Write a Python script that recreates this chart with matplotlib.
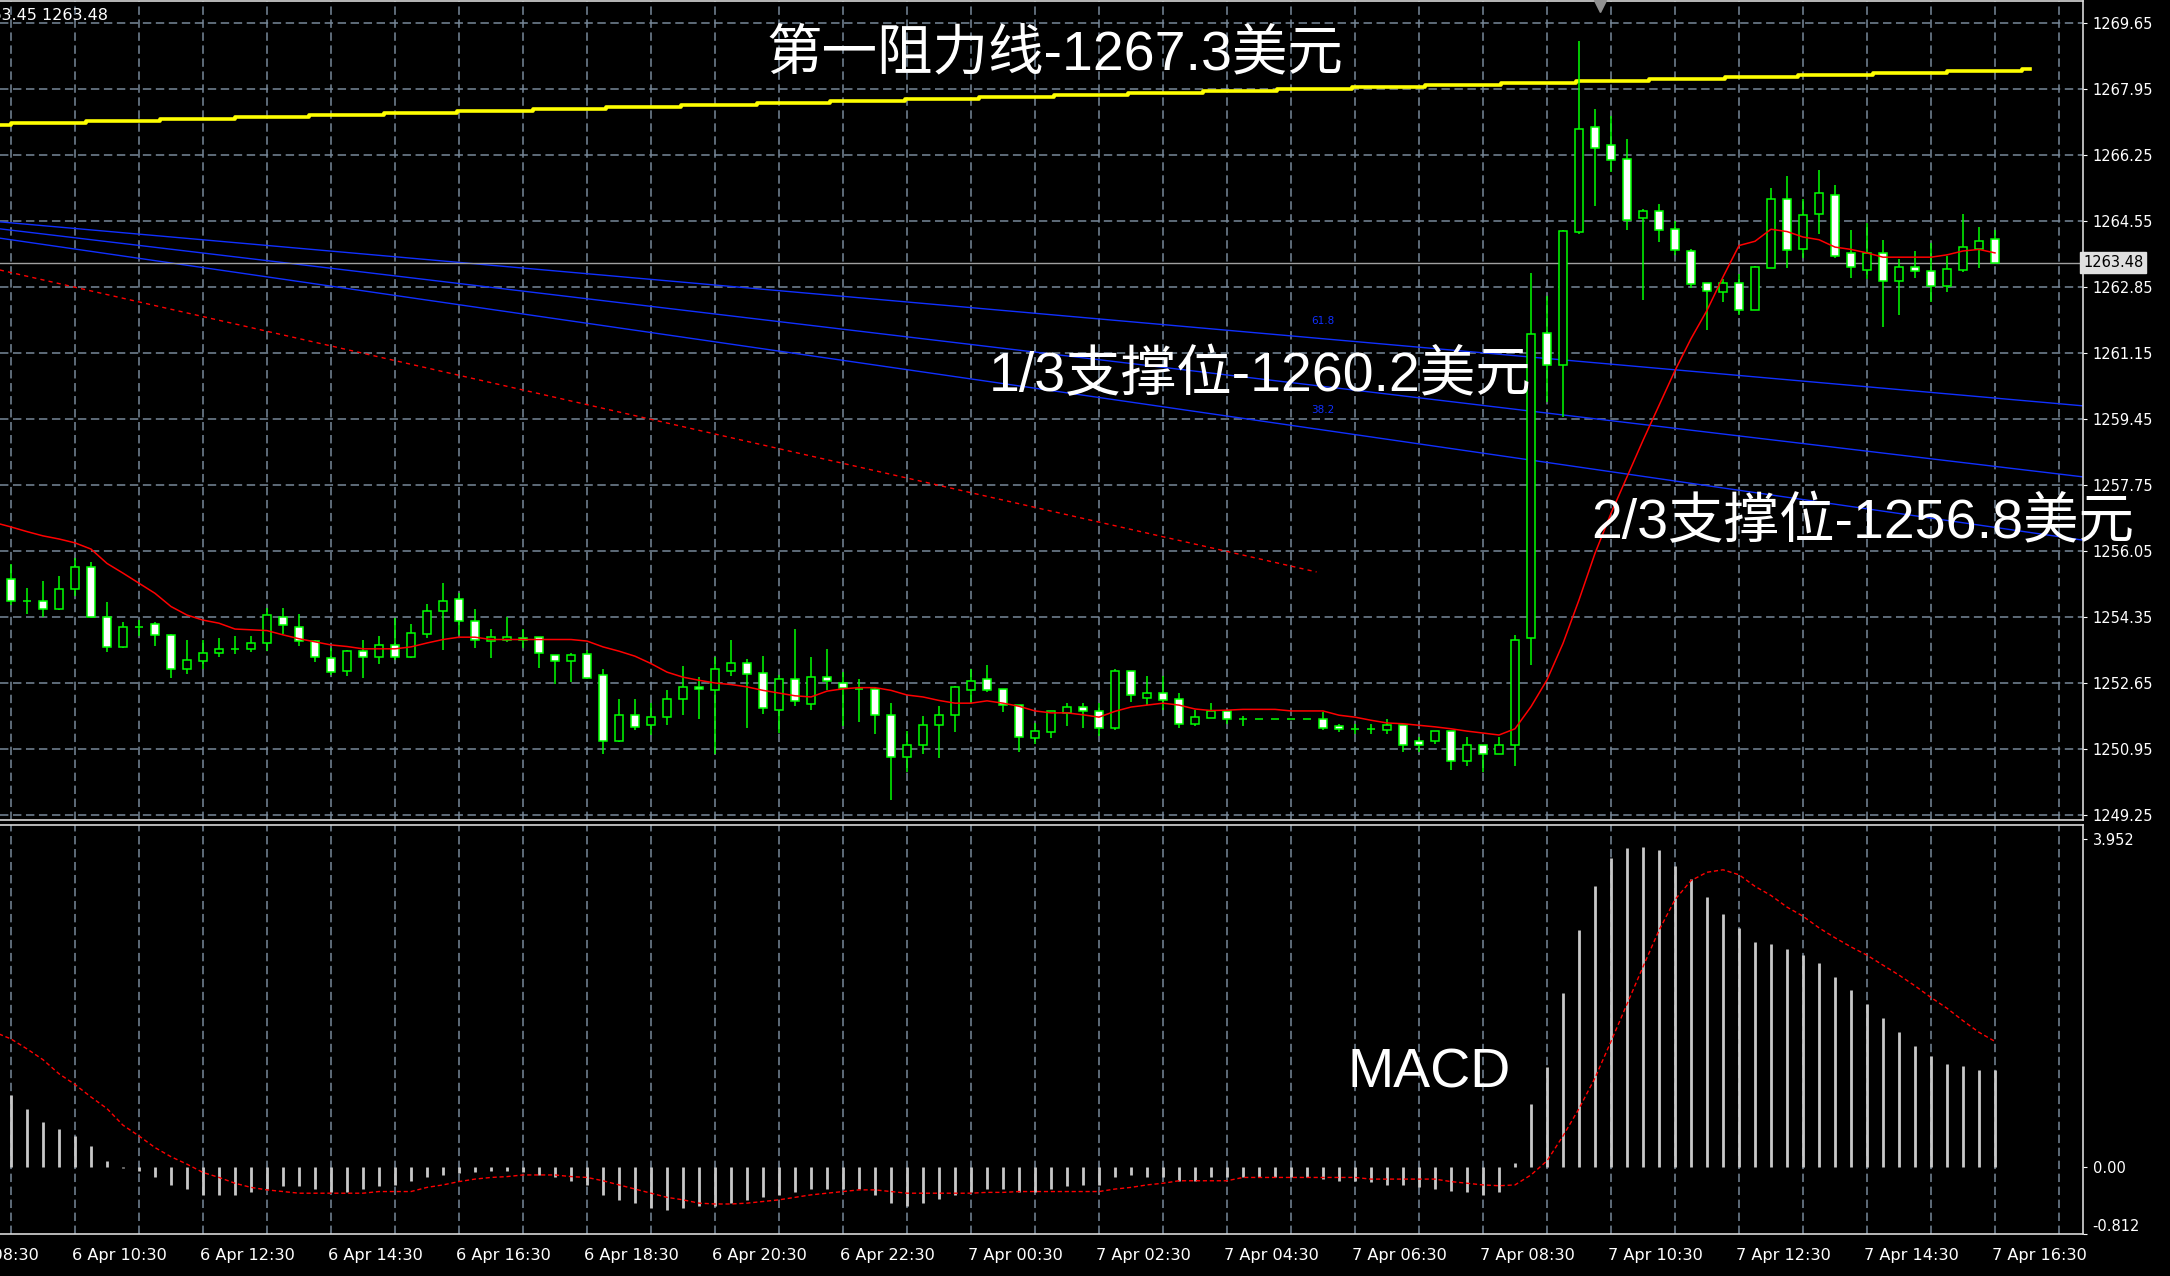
import numpy as np
import matplotlib.pyplot as plt

# 15-minute candles, index -1 .. 124 (index 0 = 6 Apr 09:30)
bar_idx = list(range(-1, 125))
opens = [1254.99, 1255.33, 1254.76, 1254.76, 1254.55, 1255.06, 1255.65, 1254.34, 1253.57, 1254.10,
         1254.16, 1253.89, 1253.00, 1253.21, 1253.41, 1253.53, 1253.52, 1253.67, 1254.36, 1254.10,
         1253.74, 1253.29, 1252.95, 1253.48, 1253.31, 1253.64, 1253.31, 1253.92, 1254.50, 1254.81,
         1254.25, 1253.72, 1253.75, 1253.82, 1253.83, 1253.36, 1253.21, 1253.39, 1252.85, 1251.15,
         1251.83, 1251.56, 1251.77, 1252.23, 1252.55, 1252.48, 1252.96, 1253.17, 1252.91, 1251.96,
         1252.74, 1252.12, 1252.80, 1252.65, 1252.50, 1252.50, 1251.82, 1250.74, 1251.04, 1251.56,
         1251.82, 1252.48, 1252.74, 1252.49, 1252.07, 1251.24, 1251.39, 1251.88, 1252.03, 1251.93,
         1251.49, 1252.96, 1252.26, 1252.39, 1252.23, 1251.60, 1251.76, 1251.93, 1251.72, 1251.72,
         1251.72, 1251.72, 1251.72, 1251.72, 1251.53, 1251.47, 1251.47, 1251.45, 1251.57, 1251.16,
         1251.16, 1251.41, 1250.63, 1251.04, 1250.83, 1251.04, 1253.80, 1261.67, 1260.84, 1264.28,
         1266.97, 1266.51, 1266.15, 1264.64, 1264.81, 1264.34, 1263.78, 1262.95, 1262.72, 1262.95,
         1262.27, 1263.35, 1265.12, 1263.82, 1264.74, 1265.23, 1263.73, 1263.30, 1263.73, 1263.00,
         1263.37, 1263.26, 1262.89, 1263.30, 1263.82, 1264.08]
highs = [1255.50, 1255.72, 1255.09, 1255.29, 1255.40, 1255.86, 1255.76, 1254.73, 1254.21, 1254.27,
         1254.21, 1253.90, 1253.76, 1253.76, 1253.81, 1253.85, 1253.85, 1254.57, 1254.57, 1254.42,
         1253.76, 1253.56, 1253.50, 1253.76, 1253.85, 1254.32, 1254.16, 1254.68, 1255.23, 1254.97,
         1254.56, 1254.05, 1254.35, 1254.05, 1253.84, 1253.37, 1253.42, 1253.49, 1253.02, 1252.25,
         1252.25, 1252.13, 1252.46, 1253.08, 1252.80, 1253.32, 1253.75, 1253.28, 1253.34, 1252.85,
         1254.05, 1253.32, 1253.53, 1252.93, 1252.76, 1252.55, 1252.14, 1251.41, 1251.79, 1252.05,
         1252.56, 1253.02, 1253.12, 1252.50, 1252.08, 1251.62, 1251.94, 1252.14, 1252.14, 1252.14,
         1253.02, 1252.97, 1252.82, 1252.82, 1252.40, 1251.95, 1252.14, 1251.94, 1251.79, 1251.72,
         1251.72, 1251.72, 1251.72, 1251.89, 1251.59, 1251.59, 1251.59, 1251.73, 1251.58, 1251.26,
         1251.42, 1251.42, 1251.26, 1251.05, 1251.26, 1253.88, 1263.22, 1262.61, 1264.32, 1269.20,
         1267.44, 1267.25, 1266.67, 1264.87, 1264.98, 1264.55, 1263.84, 1262.96, 1263.06, 1263.18,
         1263.38, 1265.39, 1265.70, 1265.13, 1265.86, 1265.49, 1264.31, 1264.51, 1264.05, 1263.58,
         1263.79, 1263.99, 1263.64, 1264.72, 1264.41, 1264.33]
lows = [1254.90, 1254.65, 1254.44, 1254.34, 1254.52, 1254.90, 1254.33, 1253.46, 1253.55, 1253.87,
        1253.60, 1252.79, 1252.88, 1253.00, 1253.31, 1253.40, 1253.46, 1253.48, 1253.91, 1253.60,
        1253.20, 1252.86, 1252.84, 1252.79, 1253.14, 1253.24, 1253.29, 1253.82, 1253.49, 1253.88,
        1253.55, 1253.30, 1253.71, 1253.55, 1253.04, 1252.63, 1252.68, 1252.74, 1250.83, 1251.13,
        1251.45, 1251.30, 1251.56, 1251.82, 1251.71, 1250.83, 1252.83, 1251.49, 1251.86, 1251.36,
        1252.05, 1251.96, 1252.46, 1251.54, 1251.65, 1251.34, 1249.64, 1250.36, 1250.83, 1250.73,
        1251.39, 1252.12, 1252.42, 1251.90, 1250.87, 1251.07, 1251.24, 1251.54, 1251.49, 1251.28,
        1251.43, 1252.16, 1252.09, 1251.95, 1251.49, 1251.54, 1251.75, 1251.60, 1251.53, 1251.72,
        1251.72, 1251.72, 1251.72, 1251.43, 1251.39, 1251.33, 1251.33, 1251.33, 1250.87, 1250.87,
        1251.07, 1250.40, 1250.51, 1250.36, 1250.82, 1250.51, 1253.11, 1259.90, 1259.51, 1264.22,
        1264.94, 1265.81, 1264.31, 1262.52, 1264.01, 1263.67, 1262.83, 1261.75, 1262.46, 1262.12,
        1262.26, 1263.34, 1263.35, 1263.60, 1264.22, 1263.60, 1263.09, 1263.06, 1261.82, 1262.12,
        1263.09, 1262.46, 1262.72, 1263.24, 1263.35, 1263.47]
closes = [1255.35, 1254.76, 1254.76, 1254.56, 1255.08, 1255.65, 1254.35, 1253.57, 1254.10, 1254.10,
          1253.89, 1253.01, 1253.23, 1253.43, 1253.53, 1253.53, 1253.69, 1254.41, 1254.14, 1253.74,
          1253.31, 1252.94, 1253.48, 1253.31, 1253.64, 1253.31, 1253.95, 1254.50, 1254.76, 1254.24,
          1253.77, 1253.83, 1253.83, 1253.77, 1253.42, 1253.21, 1253.36, 1252.78, 1251.15, 1251.83,
          1251.52, 1251.77, 1252.25, 1252.55, 1252.50, 1253.02, 1253.17, 1252.89, 1252.01, 1252.76,
          1252.19, 1252.80, 1252.69, 1252.53, 1252.50, 1251.82, 1250.74, 1251.04, 1251.56, 1251.82,
          1252.55, 1252.70, 1252.48, 1252.07, 1251.26, 1251.41, 1251.93, 1252.03, 1251.92, 1251.49,
          1252.96, 1252.33, 1252.39, 1252.22, 1251.60, 1251.77, 1251.93, 1251.71, 1251.72, 1251.72,
          1251.72, 1251.72, 1251.72, 1251.50, 1251.46, 1251.47, 1251.47, 1251.56, 1251.04, 1251.04,
          1251.41, 1250.63, 1251.05, 1250.83, 1251.04, 1253.77, 1261.63, 1260.84, 1264.29, 1266.92,
          1266.44, 1266.13, 1264.58, 1264.81, 1264.33, 1263.81, 1262.94, 1262.75, 1262.95, 1262.27,
          1263.37, 1265.12, 1263.81, 1264.71, 1265.27, 1263.65, 1263.37, 1263.73, 1263.00, 1263.37,
          1263.26, 1262.89, 1263.31, 1263.88, 1264.04, 1263.48]
ma_line = [1256.78, 1256.67, 1256.55, 1256.44, 1256.36, 1256.26, 1256.10, 1255.73, 1255.48, 1255.22,
           1254.96, 1254.62, 1254.40, 1254.27, 1254.19, 1254.04, 1254.02, 1254.00, 1253.89, 1253.79,
           1253.71, 1253.63, 1253.59, 1253.53, 1253.53, 1253.53, 1253.58, 1253.68, 1253.77, 1253.83,
           1253.83, 1253.77, 1253.77, 1253.77, 1253.77, 1253.77, 1253.77, 1253.73, 1253.58, 1253.47,
           1253.34, 1253.15, 1252.93, 1252.80, 1252.72, 1252.65, 1252.61, 1252.55, 1252.46, 1252.39,
           1252.32, 1252.29, 1252.44, 1252.50, 1252.53, 1252.53, 1252.46, 1252.34, 1252.29, 1252.20,
           1252.13, 1252.13, 1252.19, 1252.13, 1252.05, 1251.93, 1251.88, 1251.88, 1251.83, 1251.77,
           1251.92, 1252.03, 1252.08, 1252.13, 1252.08, 1251.98, 1251.94, 1251.95, 1251.97, 1251.97,
           1251.97, 1251.93, 1251.93, 1251.93, 1251.82, 1251.77, 1251.69, 1251.62, 1251.60, 1251.56,
           1251.52, 1251.47, 1251.41, 1251.36, 1251.31, 1251.47, 1252.04, 1252.73, 1253.67, 1254.79,
           1255.99, 1257.02, 1257.96, 1258.90, 1259.80, 1260.70, 1261.52, 1262.25, 1263.11, 1263.92,
           1264.03, 1264.34, 1264.28, 1264.14, 1264.07, 1263.88, 1263.82, 1263.73, 1263.62, 1263.62,
           1263.62, 1263.62, 1263.68, 1263.78, 1263.82, 1263.73]

# MACD histogram and signal line, same index
macd_hist = [0.95, 0.87, 0.70, 0.54, 0.45, 0.37, 0.25, 0.07, -0.02, -0.05,
             -0.13, -0.22, -0.27, -0.34, -0.34, -0.34, -0.30, -0.27, -0.23, -0.23,
             -0.27, -0.30, -0.30, -0.27, -0.23, -0.22, -0.17, -0.13, -0.10, -0.08,
             -0.07, -0.05, -0.05, -0.07, -0.10, -0.13, -0.17, -0.22, -0.34, -0.40,
             -0.44, -0.50, -0.52, -0.50, -0.47, -0.47, -0.44, -0.40, -0.37, -0.34,
             -0.30, -0.27, -0.27, -0.27, -0.27, -0.34, -0.44, -0.47, -0.44, -0.39,
             -0.34, -0.30, -0.27, -0.27, -0.30, -0.30, -0.27, -0.23, -0.22, -0.22,
             -0.13, -0.10, -0.13, -0.13, -0.17, -0.17, -0.13, -0.13, -0.13, -0.13,
             -0.13, -0.13, -0.13, -0.15, -0.17, -0.17, -0.18, -0.22, -0.22, -0.24,
             -0.27, -0.29, -0.30, -0.34, -0.30, 0.05, 0.75, 1.20, 2.10, 2.85,
             3.38, 3.72, 3.84, 3.85, 3.82, 3.63, 3.47, 3.25, 3.05, 2.88,
             2.71, 2.68, 2.63, 2.55, 2.46, 2.29, 2.13, 1.96, 1.79, 1.62,
             1.46, 1.34, 1.24, 1.21, 1.17, 1.17]
macd_signal = [1.62, 1.54, 1.42, 1.29, 1.12, 0.99, 0.84, 0.70, 0.50, 0.37,
               0.23, 0.12, 0.03, -0.07, -0.13, -0.20, -0.25, -0.28, -0.30, -0.32,
               -0.32, -0.32, -0.32, -0.32, -0.30, -0.30, -0.30, -0.25, -0.22, -0.18,
               -0.15, -0.13, -0.12, -0.10, -0.10, -0.10, -0.12, -0.13, -0.17, -0.22,
               -0.27, -0.32, -0.37, -0.40, -0.44, -0.45, -0.45, -0.44, -0.42, -0.40,
               -0.37, -0.34, -0.32, -0.30, -0.28, -0.28, -0.30, -0.32, -0.32, -0.32,
               -0.32, -0.32, -0.31, -0.31, -0.30, -0.30, -0.30, -0.30, -0.30, -0.30,
               -0.27, -0.25, -0.22, -0.20, -0.17, -0.17, -0.17, -0.17, -0.13, -0.13,
               -0.13, -0.13, -0.13, -0.13, -0.13, -0.13, -0.15, -0.15, -0.15, -0.15,
               -0.15, -0.18, -0.20, -0.22, -0.23, -0.22, -0.10, 0.07, 0.37, 0.70,
               1.07, 1.51, 1.96, 2.41, 2.85, 3.22, 3.45, 3.55, 3.58, 3.52,
               3.38, 3.27, 3.13, 3.02, 2.88, 2.76, 2.65, 2.55, 2.43, 2.31,
               2.18, 2.04, 1.91, 1.76, 1.62, 1.51]

# yellow resistance line (stepped), in candle index / price
yellow_x = [-0.7, 0.0, 4.7, 9.3, 14.0, 18.6, 23.3, 27.9, 32.6, 37.2, 41.9, 46.6, 51.2, 55.9, 60.5,
            65.2, 69.8, 74.5, 79.1, 83.8, 88.4, 93.1, 97.8, 102.4, 107.1, 111.7, 116.4, 121.0, 125.7, 126.2]
yellow_y = [1267.03, 1267.08, 1267.13, 1267.18, 1267.23, 1267.28, 1267.34, 1267.39, 1267.44, 1267.49,
            1267.54, 1267.59, 1267.65, 1267.70, 1267.75, 1267.80, 1267.85, 1267.90, 1267.96, 1268.01,
            1268.06, 1268.11, 1268.16, 1268.21, 1268.27, 1268.32, 1268.37, 1268.42, 1268.46, 1268.46]

# fibonacci fan lines (start/end points) and red dashed trendline
fan_x = [-0.69, 129.5]
fan_618 = [1264.53, 1259.79]
fan_500 = [1264.35, 1257.96]
fan_382 = [1264.11, 1256.33]
trend_x = [-0.7, 81.6]
trend_y = [1263.29, 1255.51]

last_price = 1263.48
price_ticks = [1249.25, 1250.95, 1252.65, 1254.35, 1256.05, 1257.75, 1259.45,
               1261.15, 1262.85, 1264.55, 1266.25, 1267.95, 1269.65]
date_pos = [-4, 4, 12, 20, 28, 36, 44, 52, 60, 68, 76, 84, 92, 100, 108, 116, 124]
date_labels = ['6 Apr 08:30', '6 Apr 10:30', '6 Apr 12:30', '6 Apr 14:30', '6 Apr 16:30',
               '6 Apr 18:30', '6 Apr 20:30', '6 Apr 22:30', '7 Apr 00:30', '7 Apr 02:30',
               '7 Apr 04:30', '7 Apr 06:30', '7 Apr 08:30', '7 Apr 10:30', '7 Apr 12:30',
               '7 Apr 14:30', '7 Apr 16:30']

GREEN = '#00ff00'
GRID = '#778899'
dash = (0, (5.5, 3))

plt.rcParams['font.family'] = ['DejaVu Sans']
big = ['Liberation Sans', 'Noto Sans CJK SC', 'DejaVu Sans']

W, H = 2170, 1276
fig = plt.figure(figsize=(W / 100, H / 100), dpi=100, facecolor='black')
ax = fig.add_axes([0, 1 - 820 / H, 2083 / W, 819 / H], facecolor='black')
ax2 = fig.add_axes([0, 1 - 1234 / H, 2083 / W, 409 / H], facecolor='black')

x = np.array(bar_idx)
o = np.array(opens); c = np.array(closes); hi = np.array(highs); lo = np.array(lows)
up = c >= o

for a in (ax, ax2):
    a.set_xlim(-0.6875, 129.5)
    a.set_xticks(range(0, 130, 4))
    a.tick_params(axis='x', length=0, labelbottom=False)
    a.grid(axis='x', color=GRID, lw=1.1, linestyle=dash)
    a.set_axisbelow(True)
    a.spines['left'].set_visible(False)
    for s in ('right', 'bottom', 'top'):
        a.spines[s].set_color('#d8d8d8')
        a.spines[s].set_linewidth(1.2)
    a.yaxis.tick_right()
    a.tick_params(axis='y', colors='white', labelsize=10.5, length=3, pad=4)

# upper panel
ax.set_ylim(1249.12, 1270.22)
ax.set_yticks(price_ticks)
ax.set_yticklabels(['%.2f' % t for t in price_ticks])
ax.grid(axis='y', color=GRID, lw=1.1, linestyle=dash)

ax.plot(yellow_x, yellow_y, color='#ffff00', lw=2.6, drawstyle='steps-post', zorder=2)
ax.plot(fan_x, fan_618, color='#1030ff', lw=1, zorder=2)
ax.plot(fan_x, fan_500, color='#1030ff', lw=1, zorder=2)
ax.plot(fan_x, fan_382, color='#1030ff', lw=1, zorder=2)
ax.plot(trend_x, trend_y, color='#ff0000', lw=1, linestyle=(0, (3, 3)), zorder=2)
ax.text(82, 1261.98, '61.8', color='#1030ff', fontsize=7.5, ha='center', va='center')
ax.text(82, 1259.68, '38.2', color='#1030ff', fontsize=7.5, ha='center', va='center')
ax.axhline(last_price, color='#a0a0a0', lw=1, zorder=2)

ax.vlines(x, lo, hi, color=GREEN, lw=1.1, zorder=3)
ax.bar(x, np.abs(c - o), bottom=np.minimum(o, c), width=0.56,
       color=np.where(up, 'black', 'white'), edgecolor=GREEN, linewidth=1.1, zorder=4)
ax.plot(x, ma_line, color='#ff0000', lw=1.1, zorder=5)

ax.text(1.0, last_price, '%.2f' % last_price, transform=ax.get_yaxis_transform(),
        color='black', fontsize=10.5, ha='left', va='center', zorder=6, clip_on=False,
        bbox=dict(boxstyle='square,pad=0.2', facecolor='#e0e0e0', edgecolor='#e0e0e0'))
ax.plot([99.3], [1270.1], marker='v', color='#909090', ms=9, clip_on=False, zorder=6)

# lower panel (MACD)
ax2.set_ylim(-0.812, 4.12)
ax2.set_yticks([-0.812, 0.0, 3.952])
ax2.set_yticklabels(['-0.812', '0.00', '3.952'])
ax2.get_yticklabels()[0].set_va('bottom')
ax2.vlines(x, 0, macd_hist, color='#c8c8c8', lw=2.0, zorder=3)
ax2.plot(x, macd_signal, color='#ff0000', lw=1, linestyle=(0, (3, 2)), zorder=4)

for p, lab in zip(date_pos, date_labels):
    ax2.text(p - 0.2, -0.035, lab, transform=ax2.get_xaxis_transform(), color='white',
             fontsize=11.6, ha='left', va='top', clip_on=False)

# annotations
fig.text(108 / W, 1 - 15 / H, '1263.45 1263.48', color='white', fontsize=11.5, ha='right', va='center')
fig.text(766 / W, 1 - 55 / H, '第一阻力线-1267.3美元', family=big, color='white', fontsize=40,
         ha='left', va='center')
fig.text(989 / W, 1 - 377 / H, '1/3支撑位-1260.2美元', family=big, color='white', fontsize=40,
         ha='left', va='center')
fig.text(1591 / W, 1 - 524 / H, '2/3支撑位-1256.8美元', family=big, color='white', fontsize=40,
         ha='left', va='center')
fig.text(1347 / W, 1 - 1074 / H, 'MACD', family=big, color='white', fontsize=40,
         ha='left', va='center')

fig.savefig('out.png', dpi=100, facecolor='black')
